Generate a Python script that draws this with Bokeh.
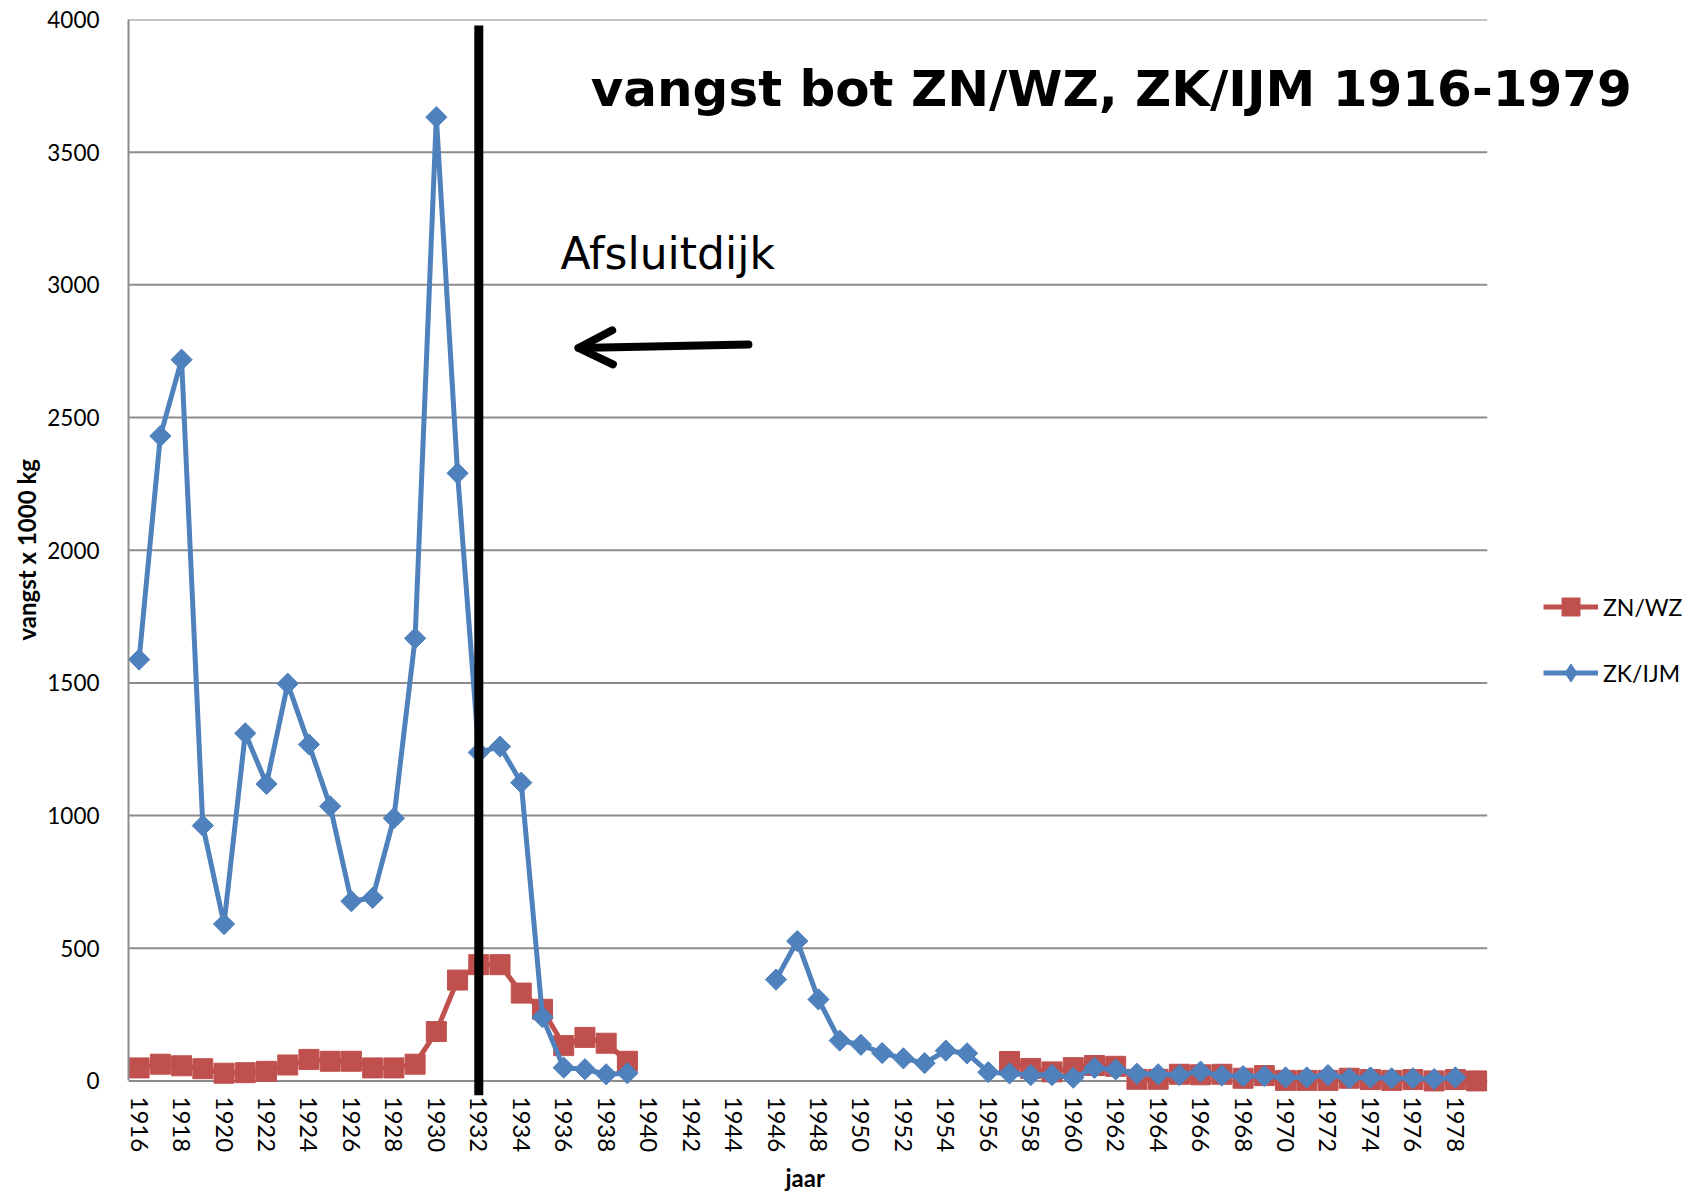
import numpy as np
from bokeh.plotting import figure
from bokeh.models import (Range1d, FixedTicker, Label, Arrow, OpenHead, Legend,
                          LegendItem, Title)
from bokeh.embed import file_html
from bokeh.resources import INLINE

nan = float("nan")

# ---- data -------------------------------------------------------------
years = list(range(1916, 1980))

zn_wz = [49, 63, 57, 46, 29, 31, 36, 60, 81, 74, 74, 49, 49, 63, 186, 380,
         438, 438, 331, 270, 133, 164, 142, 74,
         nan, nan, nan, nan, nan, nan, nan, nan, nan, nan, nan, nan, nan,
         nan, nan, nan, nan,
         73, 47, 34, 50, 58, 55, 6, 6, 25, 23, 25, 10, 20, 2, 2, 2, 10, 5,
         2, 5, 0, 5, 0]

zk_ijm = [1588, 2430, 2718, 962, 591, 1310, 1119, 1497, 1268, 1035, 677, 690,
          990, 1668, 3632, 2290, 1238, 1260, 1124, 240, 50, 44, 25, 29,
          nan, nan, nan, nan, nan, nan,
          382, 527, 307, 152, 136, 105, 85, 67, 114, 104, 33, 28, 22, 22, 12,
          49, 43, 27, 25, 22, 35, 20, 18, 18, 13, 13, 22, 10, 13, 10, 10, 7,
          13, nan]

series_names = ["ZN/WZ", "ZK/IJM"]
y_ticks = [0, 500, 1000, 1500, 2000, 2500, 3000, 3500, 4000]
x_ticks = years[::2]

title_text = "vangst bot ZN/WZ, ZK/IJM 1916-1979"
note_text = "Afsluitdijk"
x_title = "jaar"
y_title = "vangst x 1000 kg"
dam_year = 1932

RED = "#C0504D"
BLUE = "#4F81BD"
GRID = "#8c8c8c"
FONT = "Lato"

# ---- layout -----------------------------------------------------------
W, H = 1700, 1196
LEFT, TOP = 128, 19
PX_PER_YEAR = 21.23
x_lo, x_hi = years[0] - 0.5, years[-1] + 0.5
x_end = x_lo + (W - LEFT) / PX_PER_YEAR
y_lo = -55

p = figure(width=W, height=H, output_backend="svg", toolbar_location=None,
           x_range=Range1d(x_lo, x_end), y_range=Range1d(y_lo, 4000),
           min_border_left=LEFT, min_border_right=0, min_border_top=TOP,
           min_border_bottom=101)
p.outline_line_color = None
p.background_fill_color = "white"
p.border_fill_color = "white"

p.xgrid.visible = False
p.ygrid.visible = False

# horizontal gridlines only over the category area
p.segment(x0=[x_lo] * len(y_ticks), x1=[x_hi] * len(y_ticks), y0=y_ticks,
          y1=y_ticks, line_color=GRID, line_width=2)

p.yaxis.ticker = FixedTicker(ticks=y_ticks)
p.yaxis.bounds = (0, 4000)
p.yaxis.axis_line_color = GRID
p.yaxis.axis_line_width = 2
p.yaxis.major_tick_line_color = None
p.yaxis.minor_tick_line_color = None
p.yaxis.major_label_standoff = 23
p.yaxis.major_label_text_font = FONT
p.yaxis.major_label_text_font_size = "22.5px"
p.yaxis.major_label_text_color = "black"

# y-axis title, centred on the 0..4000 value range
p.add_layout(Title(text=y_title, align="left", offset=455, standoff=8,
                   text_font=FONT, text_font_style="bold",
                   text_font_size="24px", text_color="black"), "left")

p.xaxis.ticker = FixedTicker(ticks=x_ticks)
p.xaxis.axis_line_color = None
p.xaxis.major_tick_line_color = None
p.xaxis.minor_tick_line_color = None
p.xaxis.major_label_orientation = "vertical"
p.xaxis.major_label_standoff = -5
p.xaxis.major_label_text_font = FONT
p.xaxis.major_label_text_font_size = "24px"
p.xaxis.major_label_text_color = "black"

# x-axis title, centred under the category area
p.add_layout(Title(text=x_title, align="left", offset=657, standoff=10,
                   text_font=FONT, text_font_style="bold",
                   text_font_size="24px", text_color="black"), "below")

x = np.array(years, dtype=float)
red_y = np.array(zn_wz, dtype=float)
blue_y = np.array(zk_ijm, dtype=float)

r1 = p.line(x, red_y, line_color=RED, line_width=5, line_join="round")
r2 = p.scatter(x, red_y, marker="square", size=20, fill_color=RED,
               line_color=RED)
r3 = p.line(x, blue_y, line_color=BLUE, line_width=5, line_join="round")
r4 = p.scatter(x, blue_y, marker="square", angle=np.pi / 4, size=15,
               fill_color=BLUE, line_color=BLUE)
# legend swatch for the diamond marker (draws nothing in the plot)
r5 = p.scatter([nan], [nan], marker="diamond", size=20, fill_color=BLUE,
               line_color=BLUE)

# vertical Afsluitdijk line
p.add_layout(Arrow(end=None, x_start=dam_year, y_start=y_lo, x_end=dam_year,
                   y_end=3977, line_width=9, line_color="black"))

# pointer arrow
p.add_layout(Arrow(end=OpenHead(size=34, line_width=8, line_color="black",
                                line_cap="round", line_join="round"),
                   x_start=1944.7, y_start=2775, x_end=1936.7, y_end=2762,
                   line_width=8, line_color="black", line_cap="round"))

p.add_layout(Label(x=1937.27, y=3737, text=title_text, text_font="DejaVu Sans",
                   text_font_style="bold", text_font_size="50px",
                   text_color="black", text_align="left",
                   text_baseline="alphabetic"))
p.add_layout(Label(x=1935.85, y=3120, text=note_text, text_font="DejaVu Sans",
                   text_font_size="44px", text_color="black",
                   text_align="left", text_baseline="alphabetic"))

legend = Legend(items=[LegendItem(label=series_names[0], renderers=[r1, r2]),
                       LegendItem(label=series_names[1], renderers=[r3, r5])],
                location=(1415, 400), glyph_width=55, glyph_height=45,
                label_height=20, label_standoff=5, spacing=21, padding=0,
                margin=0, border_line_color=None, background_fill_alpha=0,
                label_text_font=FONT, label_text_font_size="23px",
                label_text_color="black")
p.add_layout(legend)

open("out.html", "w").write(file_html(p, INLINE))
